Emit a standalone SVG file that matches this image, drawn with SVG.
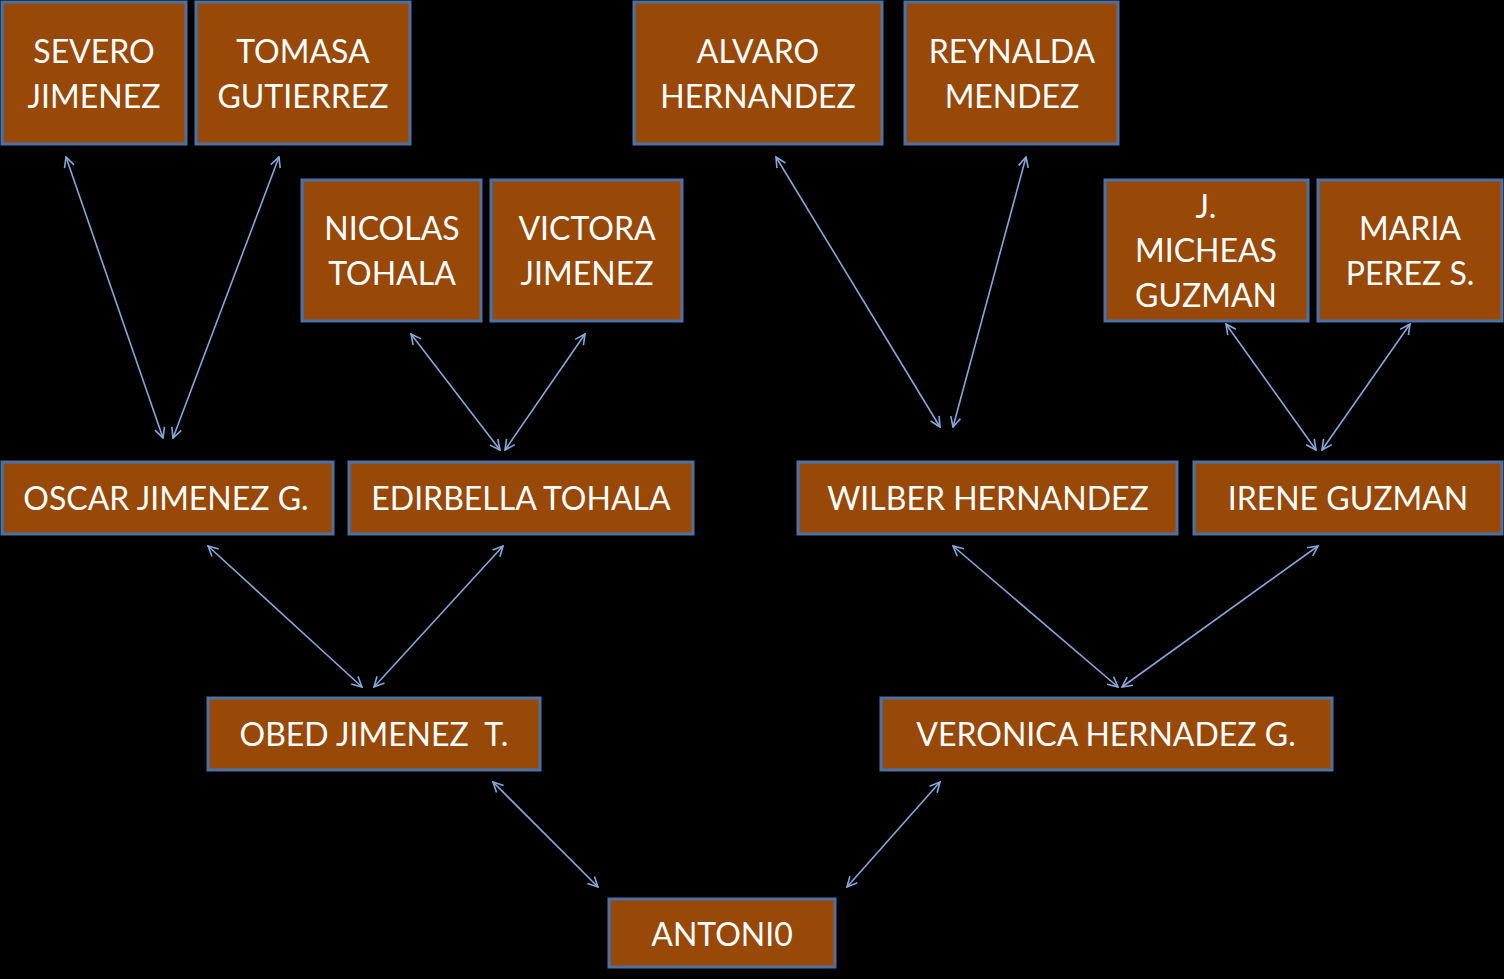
<svg xmlns="http://www.w3.org/2000/svg" width="1504" height="979" viewBox="0 0 1504 979">
<style>
.box{fill:#984807;stroke:#4a72a6;stroke-width:3}
.t{font-family:Lato,"Open Sans","Liberation Sans",sans-serif;font-size:32px;fill:#fff;text-anchor:middle}
.c{stroke:#86a8da;stroke-width:1.6;fill:none;marker-start:url(#ah);marker-end:url(#ah)}
</style>
<defs>
<marker id="ah" viewBox="0 0 12 12" refX="11" refY="6" markerWidth="12" markerHeight="12" markerUnits="userSpaceOnUse" orient="auto-start-reverse">
<path d="M1,1 L11,6 L1,11" fill="none" stroke="#86a8da" stroke-width="1.6"/>
</marker>
</defs>
<rect width="1504" height="979" fill="#000"/>
<g id="connectors">
<line class="c" x1="66" y1="157" x2="163" y2="438"/>
<line class="c" x1="279" y1="157" x2="173" y2="438"/>
<line class="c" x1="411" y1="334" x2="500" y2="450"/>
<line class="c" x1="585" y1="334" x2="505" y2="450"/>
<line class="c" x1="776" y1="157" x2="940" y2="427"/>
<line class="c" x1="1026" y1="157" x2="953" y2="427"/>
<line class="c" x1="1226" y1="324" x2="1316" y2="450"/>
<line class="c" x1="1410" y1="324" x2="1322" y2="450"/>
<line class="c" x1="208" y1="546" x2="362" y2="687"/>
<line class="c" x1="503" y1="546" x2="374" y2="687"/>
<line class="c" x1="953" y1="546" x2="1118" y2="687"/>
<line class="c" x1="1318" y1="546" x2="1122" y2="687"/>
<line class="c" x1="493" y1="782" x2="598" y2="887"/>
<line class="c" x1="940" y1="782" x2="847" y2="887"/>
</g>
<g id="severo"><rect class="box" x="2" y="2" width="184" height="142"/><text class="t" x="94" y="63">SEVERO</text><text class="t" x="94" y="108">JIMENEZ</text></g>
<g id="tomasa"><rect class="box" x="196" y="2" width="214" height="142"/><text class="t" x="303" y="63">TOMASA</text><text class="t" x="303" y="108">GUTIERREZ</text></g>
<g id="alvaro"><rect class="box" x="634" y="2" width="248" height="142"/><text class="t" x="758" y="63">ALVARO</text><text class="t" x="758" y="108">HERNANDEZ</text></g>
<g id="reynalda"><rect class="box" x="905" y="2" width="213" height="142"/><text class="t" x="1012" y="63">REYNALDA</text><text class="t" x="1012" y="108">MENDEZ</text></g>
<g id="nicolas"><rect class="box" x="302" y="180" width="179" height="141"/><text class="t" x="392" y="240">NICOLAS</text><text class="t" x="392" y="285">TOHALA</text></g>
<g id="victora"><rect class="box" x="491" y="180" width="191" height="141"/><text class="t" x="587" y="240">VICTORA</text><text class="t" x="587" y="285">JIMENEZ</text></g>
<g id="micheas"><rect class="box" x="1105" y="180" width="203" height="141"/><text class="t" x="1206" y="218">J.</text><text class="t" x="1206" y="262">MICHEAS</text><text class="t" x="1206" y="307">GUZMAN</text></g>
<g id="maria"><rect class="box" x="1318" y="180" width="184" height="141"/><text class="t" x="1410" y="240">MARIA</text><text class="t" x="1410" y="285">PEREZ S.</text></g>
<g id="oscar"><rect class="box" x="2" y="462" width="331" height="72"/><text class="t" x="166" y="510">OSCAR JIMENEZ G.</text></g>
<g id="edirbella"><rect class="box" x="349" y="462" width="344" height="72"/><text class="t" x="521" y="510">EDIRBELLA TOHALA</text></g>
<g id="wilber"><rect class="box" x="798" y="462" width="379" height="72"/><text class="t" x="988" y="510">WILBER HERNANDEZ</text></g>
<g id="irene"><rect class="box" x="1194" y="462" width="308" height="72"/><text class="t" x="1348" y="510">IRENE GUZMAN</text></g>
<g id="obed"><rect class="box" x="208" y="698" width="332" height="72"/><text class="t" x="374" y="746" xml:space="preserve">OBED JIMENEZ  T.</text></g>
<g id="veronica"><rect class="box" x="881" y="698" width="451" height="72"/><text class="t" x="1106" y="746">VERONICA HERNADEZ G.</text></g>
<g id="antonio"><rect class="box" x="609" y="899" width="226" height="68"/><text class="t" x="722" y="946">ANTONI0</text></g>
</svg>
